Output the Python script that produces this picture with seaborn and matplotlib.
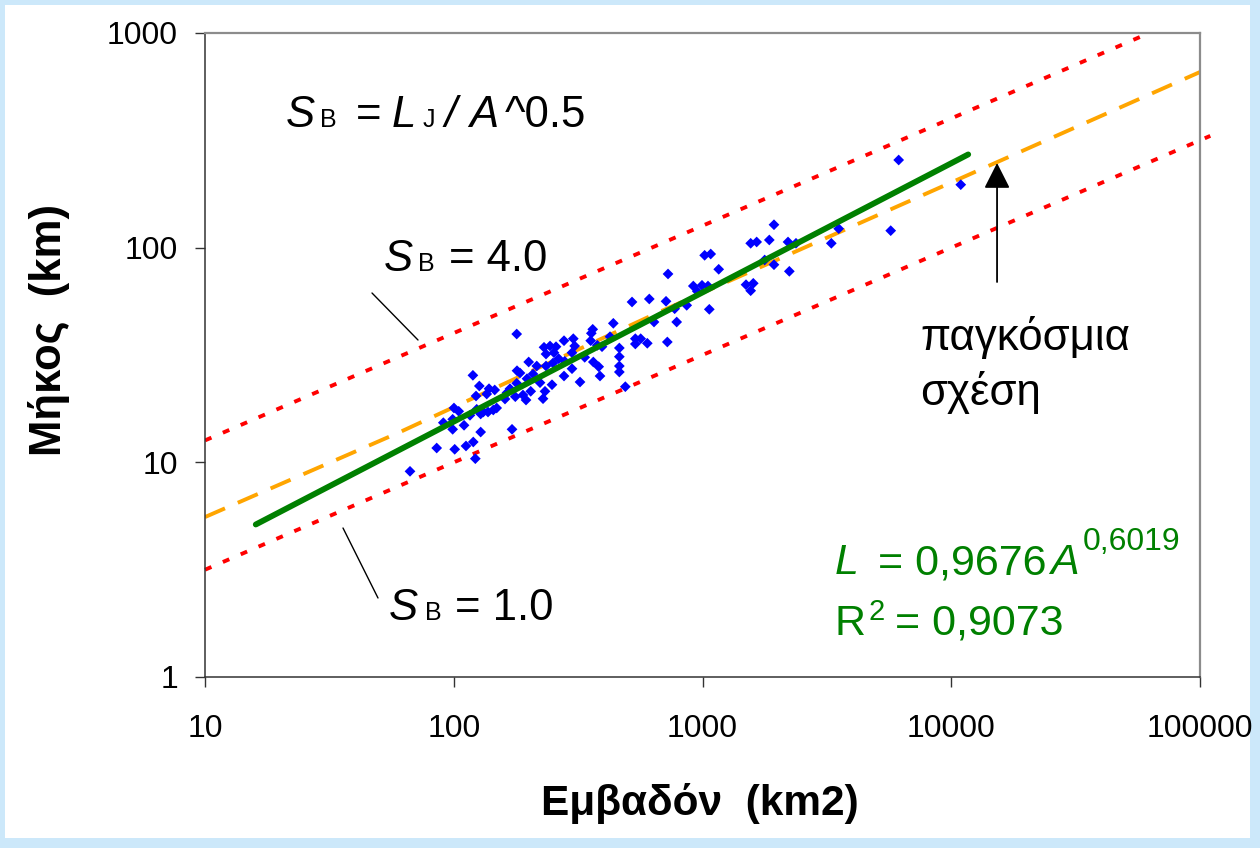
import numpy as np
import matplotlib
matplotlib.use("Agg")
import matplotlib.pyplot as plt
from matplotlib.patches import Rectangle
from matplotlib.lines import Line2D
from matplotlib.ticker import FixedLocator, FixedFormatter, NullLocator
import seaborn as sns

# ---- basin data: area (km2) and main stream length (km) ----
area = [66.7, 85.4, 90.8, 99.0, 99.0, 100.2, 104.7, 100.9, 110, 112,
        116.2, 119.8, 119.4, 122.1, 122.9, 123.7, 126.7, 128.3, 128.3, 131.5,
        135.7, 137.3, 138.6, 144.2, 146.1, 148.8, 160.7, 163.7, 168.3, 171.5,
        176.8, 179.1, 179.1, 179.6, 184.6, 189.8, 195.2, 197, 200.1, 203.9,
        208.3, 215.6, 222.2, 228.5, 232.7, 234.9, 234.9, 230.6, 243.8, 250.6,
        248.3, 252.9, 257.7, 264.2, 277.5, 279.3, 277.5, 298.8, 298.8, 302.4,
        306.3, 321.8, 336.1, 355.3, 357.3, 362, 364, 382.6, 387.2, 394.5,
        424.8, 438, 463.1, 463.1, 463.1, 463.1, 489.5, 520.8, 537, 564.3,
        537, 599.9, 611.1, 638.3, 713.5, 722.1, 726.8, 787.5, 773, 864.1,
        918.4, 953, 995.4, 1020, 1052, 1065, 1079, 1162, 1496, 1562,
        1600, 1562, 1651, 1778, 1856, 1938, 1938, 2207, 2234, 2376,
        3295, 3528, 5710, 6147, 10920, 377.6]
length = [9.08, 11.66, 15.30, 15.87, 14.25, 17.91, 17.29, 11.5, 14.88, 11.92,
          16.56, 12.44, 25.43, 10.4, 20.37, 17.66, 22.68, 16.8, 13.84, 17.16,
          20.81, 17.16, 22.03, 17.53, 21.73, 17.91, 19.72, 21.1, 22.03, 14.25,
          20.22, 23.35, 39.6, 26.72, 26.07, 20.59, 19.51, 24.52, 29.34, 21.42,
          25.79, 28.1, 23.5, 19.79, 21.42, 28.1, 31.95, 34.35, 34.83, 29.02,
          22.99, 32.41, 34.57, 30.39, 36.87, 29.56, 25.24, 32.41, 27.3, 37.67,
          34.83, 23.67, 30.85, 36.87, 39.92, 41.66, 29.34, 27.89, 25.24, 34.57,
          38.49, 44.42, 34.09, 31.05, 28.1, 26.35, 22.51, 55.84, 37.67, 37.67,
          35.59, 35.86, 57.67, 45.05, 56.26, 36.36, 75.42, 45.05, 51.95, 53.88,
          66.28, 62.61, 66.78, 92.13, 66.28, 51.62, 93.43, 79.3, 67.22, 63.02,
          68.23, 104.8, 106.3, 87.61, 108.6, 127.9, 83.3, 106.3, 77.6, 104.8,
          104.8, 122.6, 120, 256.1, 196.5, 35.1]

# power-law fit  L = 0.9676 A^0.6019
fit_coef = 0.9676
fit_exp = 0.6019
fit_r2 = 0.9073
fit_area = np.array([16.0, 11700.0])
fit_len = fit_coef * fit_area ** fit_exp

# global (world-wide) relation
glob_area = [10, 60.8, 656, 6516, 100000]
glob_len = [5.56, 13.84, 49.6, 161.4, 658]

# sinuosity reference lines SB = 1.0 and SB = 4.0
sb1_area = [10, 110000]
sb1_len = [3.16, 331.7]
sb4_area = [10, 62500]
sb4_len = [12.65, 1000]

x_ticks = [10, 100, 1000, 10000, 100000]
x_tick_labels = ["10", "100", "1000", "10000", "100000"]
y_ticks = [1, 10, 100, 1000]
y_tick_labels = ["1", "10", "100", "1000"]

# ---- figure ----
sns.set_style("white")
plt.rcParams["font.family"] = ["Liberation Sans", "DejaVu Sans"]
plt.rcParams["text.color"] = "black"

W, H = 1260, 848
fig = plt.figure(figsize=(W / 100, H / 100), dpi=100)
fig.patch.set_facecolor("#CCE8FA")
fig.add_artist(Rectangle((5 / W, 10 / H), (W - 15) / W, (H - 15) / H,
                         transform=fig.transFigure, facecolor="white",
                         edgecolor="none", zorder=-5))


def fx(px):
    return px / W


def fy(py):
    return 1 - py / H


ax = fig.add_axes([fx(205), fy(677), (1200 - 205) / W, (677 - 33) / H])
ax.set_facecolor("white")
ax.set_xscale("log")
ax.set_yscale("log")
ax.set_xlim(10, 100000)
ax.set_ylim(1, 1000)

red_dots = (0, (1.8, 3.2))
ax.plot(sb1_area, sb1_len, color="#FF0000", lw=2.8, linestyle=red_dots,
        clip_on=False, zorder=1)
ax.plot(sb4_area, sb4_len, color="#FF0000", lw=2.8, linestyle=red_dots,
        zorder=1)
ax.plot(glob_area, glob_len, color="#FFA500", lw=2.8,
        linestyle=(0, (5.6, 3.6)), zorder=2)

sns.scatterplot(x=area, y=length, marker="D", s=30, color="#0000FF",
                edgecolor="none", linewidth=0, ax=ax, zorder=3, legend=False)

ax.plot(fit_area, fit_len, color="#008000", lw=4.2, solid_capstyle="round",
        zorder=4)

# axes styling
ax.xaxis.set_major_locator(FixedLocator(x_ticks))
ax.xaxis.set_major_formatter(FixedFormatter(x_tick_labels))
ax.yaxis.set_major_locator(FixedLocator(y_ticks))
ax.yaxis.set_major_formatter(FixedFormatter(y_tick_labels))
ax.xaxis.set_minor_locator(NullLocator())
ax.yaxis.set_minor_locator(NullLocator())
ax.tick_params(axis="both", which="major", direction="out", length=7.5,
               width=1.0, color="#333333", labelsize=23, labelcolor="black")
ax.tick_params(axis="x", pad=19)
ax.tick_params(axis="y", pad=12)
ax.tick_params(bottom=True, left=True, top=False, right=False)
for side in ("left", "bottom"):
    ax.spines[side].set_color("#333333")
    ax.spines[side].set_linewidth(1.1)
for side in ("top", "right"):
    ax.spines[side].set_color("#8C8C8C")
    ax.spines[side].set_linewidth(1.6)

# axis titles
fig.text(fx(49), fy(330), "Μήκος  (km)", rotation=90, fontsize=31.5,
         fontweight="bold", ha="center", va="center")
fig.text(fx(700), fy(803), "Εμβαδόν  (km2)", fontsize=30.5,
         fontweight="bold", ha="center", va="center")


def put(px, py, s, size, **kw):
    fig.text(fx(px), fy(py), s, fontsize=size, ha="left", va="baseline", **kw)


# definition of sinuosity
put(286, 127, "S", 31.5, style="italic")
put(320, 127, "B", 18)
put(356, 127, "=", 31.5)
put(392, 127, "L", 31.5, style="italic")
put(423, 127, "J", 18)
put(444, 127, "/", 31.5, style="italic")
put(469, 127, "A", 31.5, style="italic")
put(505, 127, "^0.5", 31.5)

# SB = 4.0 label
put(384, 271, "S", 31.5, style="italic")
put(418, 271, "B", 18)
put(449, 271, "= 4.0", 31.5)
# SB = 1.0 label
put(389, 620, "S", 31.5, style="italic")
put(425, 620, "B", 18)
put(455, 620, "= 1.0", 31.5)

fig.add_artist(Line2D([fx(372), fx(418)], [fy(293), fy(340)], color="black",
                      lw=1.0, transform=fig.transFigure))
fig.add_artist(Line2D([fx(343), fx(378)], [fy(528), fy(598)], color="black",
                      lw=1.0, transform=fig.transFigure))

# global relation label and arrow
put(920, 350, "παγκόσμια", 31.5)
put(920, 405, "σχέση", 31.5)
ax.annotate("", xy=(15280, 248), xytext=(15280, 69.2),
            arrowprops=dict(arrowstyle="-|>,head_length=0.79,head_width=0.4",
                            color="black", lw=1.3, mutation_scale=20,
                            shrinkA=0, shrinkB=0))

# fit equation
green = "#008000"
put(835, 574, "L", 31, style="italic", color=green)
put(878, 574, "= 0,%s" % f"{fit_coef:.4f}"[2:], 31, color=green)
put(1050, 574, "A", 31, style="italic", color=green)
put(1083, 550, "0,%s" % f"{fit_exp:.4f}"[2:], 23, color=green)
put(835, 635, "R", 31, color=green)
put(868, 620, "2", 21, color=green)
put(895, 635, "= 0,%s" % f"{fit_r2:.4f}"[2:], 31, color=green)

fig.savefig("out.png", dpi=100, facecolor=fig.get_facecolor())
